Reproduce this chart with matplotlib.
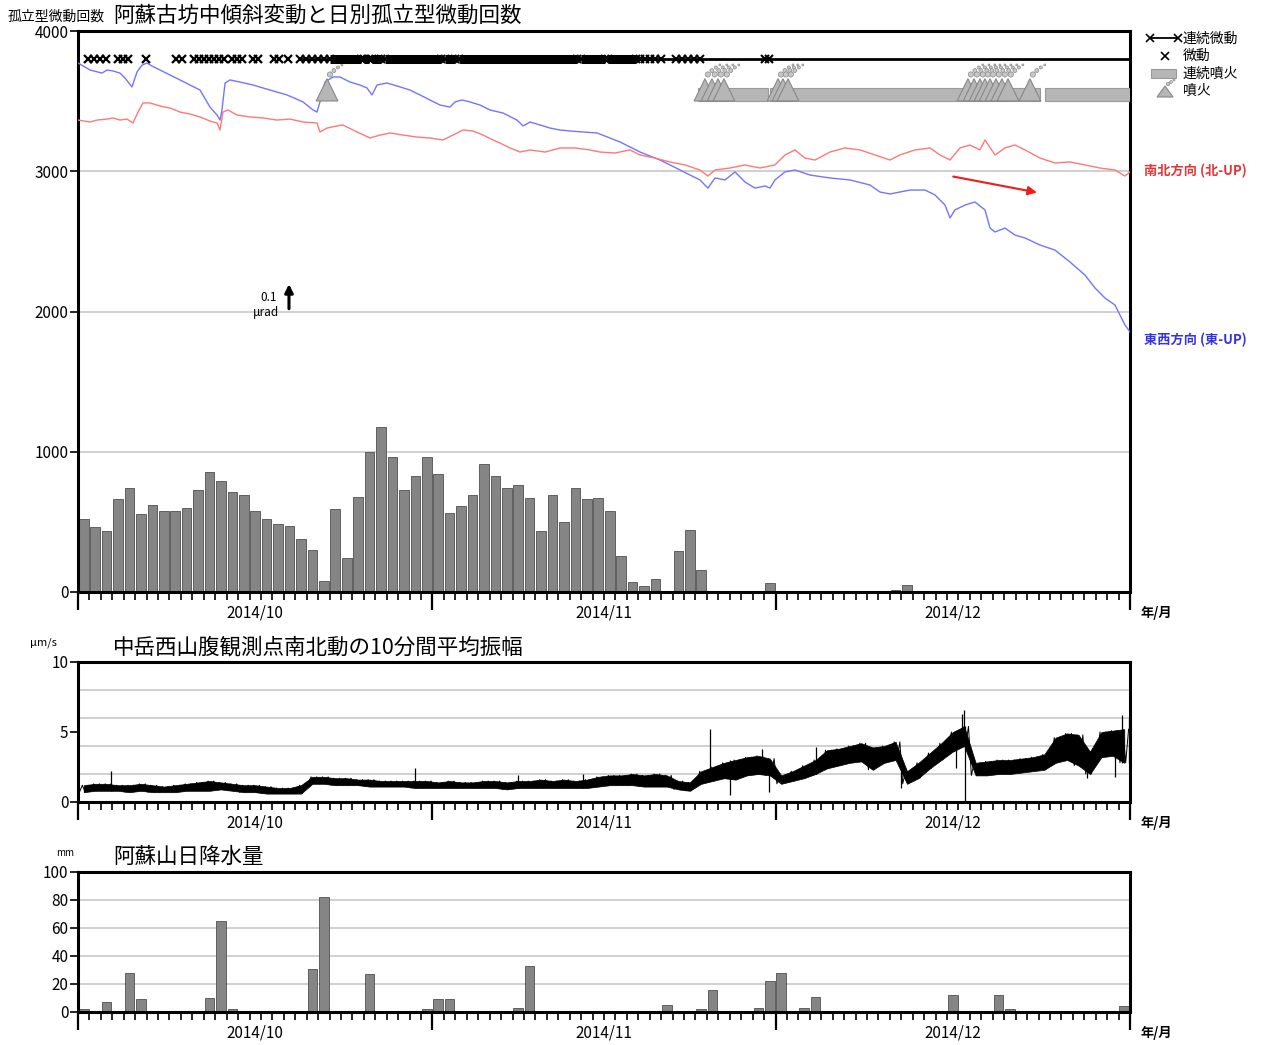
import numpy as np
import matplotlib
matplotlib.use('Agg')
import matplotlib.pyplot as plt
from matplotlib.patches import Polygon, Rectangle

plt.rcParams['font.family'] = ['Noto Sans CJK JP', 'DejaVu Sans']

######### DADOS #########
# dias contados a partir de 2014/10/01 (0 = 10/01 00:00, 92 = 2015/01/01)
month_edges = [0, 31, 61, 92]
month_labels = ['2014/10', '2014/11', '2014/12']

# 日別孤立型微動回数
quake_count = [520, 465, 435, 660, 740, 555, 620, 580, 580, 600,
               725, 855, 790, 710, 690, 580, 520, 485, 470, 375,
               300, 75, 590, 245, 680, 1000, 1175, 960, 730, 830, 960,
               840, 560, 615, 690, 910, 830, 745, 760, 670, 435,
               690, 500, 745, 660, 670, 580, 255, 70, 45, 90,
               0, 295, 440, 155, 0, 0, 0, 0, 0, 65,
               0, 0, 0, 0, 0, 0, 0, 0, 0, 0,
               17, 52, 0, 0, 0, 0, 0, 0, 0, 0,
               0, 0, 0, 0, 0, 0, 0, 0, 0, 0, 0]

# 傾斜 東西方向 (東-UP), na escala do eixo de contagem
ew_day = [0.0, 1.05, 2.1, 2.54, 3.06, 3.67, 4.11, 4.72, 5.16, 5.6,
          6.03, 6.47, 7.17, 8.05, 8.92, 9.79, 10.67, 11.54, 12.16, 12.42,
          12.59, 12.86, 13.29, 14.17, 15.3, 16.79, 18.28, 19.68, 20.55, 20.9,
          21.16, 21.6, 22.3, 22.91, 23.79, 24.66, 25.27, 25.71, 26.15, 27.02,
          27.9, 29.03, 29.91, 30.78, 31.66, 32.53, 32.97, 33.58, 34.28, 35.16,
          36.03, 37.17, 38.39, 38.92, 39.53, 40.4, 41.28, 42.15, 43.03, 44.16,
          45.39, 46.52, 47.4, 49.15, 50.9, 51.77, 52.65, 53.52, 54.39, 55.09,
          55.71, 56.58, 57.46, 58.33, 59.2, 60.08, 60.52, 60.95, 61.83, 62.7,
          64.01, 65.76, 67.51, 69.26, 70.13, 71.01, 71.88, 72.76, 74.07, 74.95,
          75.82, 76.26, 76.69, 77.57, 78.44, 79.32, 79.76, 80.19, 81.07, 81.94,
          82.82, 84.13, 85.44, 86.75, 88.06, 88.94, 89.81, 90.69, 91.12, 91.56,
          92.0]
ew_val = [3772, 3722, 3700, 3722, 3715, 3700, 3665, 3601, 3708, 3757,
          3772, 3750, 3722, 3686, 3651, 3615, 3579, 3458, 3401, 3365,
          3437, 3629, 3651, 3636, 3615, 3579, 3544, 3494, 3437, 3422,
          3494, 3636, 3672, 3672, 3636, 3615, 3594, 3544, 3615, 3629,
          3608, 3579, 3544, 3508, 3472, 3458, 3494, 3508, 3494, 3472,
          3437, 3415, 3365, 3323, 3351, 3330, 3308, 3294, 3287, 3280,
          3273, 3237, 3209, 3137, 3080, 3045, 3009, 2973, 2938, 2880,
          2952, 2938, 2995, 2923, 2880, 2895, 2880, 2938, 2995, 3009,
          2973, 2952, 2938, 2902, 2852, 2838, 2852, 2866, 2866, 2831,
          2759, 2667, 2724, 2759, 2781, 2724, 2595, 2567, 2595, 2545,
          2524, 2474, 2438, 2353, 2260, 2168, 2096, 2046, 1975, 1904,
          1854]

# 傾斜 南北方向 (北-UP)
ns_day = [0.0, 1.05, 1.66, 2.54, 3.06, 3.67, 4.29, 4.81, 5.25, 5.68,
          6.3, 7.17, 8.05, 8.92, 9.79, 10.67, 11.54, 12.16, 12.42, 12.68,
          13.12, 13.9, 15.04, 16.18, 17.4, 18.54, 19.68, 20.9, 21.16, 21.78,
          22.65, 23.17, 24.4, 25.54, 26.41, 27.29, 28.42, 29.65, 30.78, 31.92,
          32.8, 33.67, 34.54, 35.42, 36.29, 36.9, 37.78, 38.65, 39.53, 40.84,
          42.15, 43.46, 44.77, 45.65, 46.96, 48.27, 49.15, 50.46, 51.77, 53.08,
          54.39, 55.09, 55.71, 57.02, 58.33, 59.64, 60.95, 61.83, 62.7, 63.58,
          64.45, 65.76, 67.07, 68.39, 69.7, 71.01, 71.88, 73.2, 74.51, 75.38,
          76.26, 77.13, 78.01, 78.88, 79.32, 80.19, 81.07, 81.94, 82.82, 84.13,
          85.44, 86.75, 88.06, 89.37, 90.69, 91.56, 92.0]
ns_val = [3365, 3351, 3365, 3372, 3380, 3365, 3372, 3344, 3422, 3487,
          3487, 3465, 3451, 3422, 3408, 3387, 3358, 3344, 3294, 3422,
          3437, 3401, 3387, 3380, 3365, 3372, 3351, 3344, 3280, 3308,
          3323, 3330, 3280, 3237, 3258, 3273, 3258, 3244, 3237, 3223,
          3258, 3294, 3287, 3258, 3223, 3201, 3166, 3137, 3152, 3137,
          3166, 3166, 3152, 3137, 3130, 3152, 3116, 3094, 3066, 3045,
          3009, 2966, 3009, 3023, 3045, 3023, 3045, 3116, 3152, 3094,
          3080, 3137, 3166, 3152, 3116, 3080, 3116, 3152, 3166, 3116,
          3080, 3166, 3187, 3152, 3223, 3116, 3166, 3187, 3152, 3094,
          3059, 3066, 3045, 3023, 3009, 2966, 2995]

# 微動 (isolados) e 連続微動
tremor_day = [0.87, 1.4, 1.92, 2.45, 3.5, 3.94, 4.37, 5.95, 8.57, 9.09,
              10.14, 10.58, 11.02, 11.46, 11.89, 12.33, 12.77, 13.47, 13.9, 14.34,
              15.3, 15.74, 17.14, 17.58, 18.36]
cont_tremor = (19.4, 92.0)
cont_tremor_marks = [19.41, 19.94, 20.46, 20.99, 21.51, 49.15, 49.58, 50.02, 50.46, 50.98,
                     52.3, 52.82, 53.35, 53.87, 54.39, 60.08, 60.43]
dense_tremor = [(22.04, 24.74), (25.01, 25.45), (25.71, 26.5), (26.85, 31.74),
                (32.1, 32.97), (33.32, 43.64), (43.99, 46.09), (46.35, 48.8)]

# 噴火 / 連続噴火
eruption_day = [21.78, 54.83, 55.44, 55.97, 56.49, 61.22, 61.65, 62.09,
                77.83, 78.36, 78.88, 79.32, 79.76, 80.28, 80.8, 81.33, 83.25]
cont_eruption = [(54.22, 60.34), (60.5, 84.13), (84.56, 92.0)]

# 中岳西山腹 南北動 10分間平均振幅 (日ごとの下限・上限, μm/s)
amp_lo = [0.7, 0.8, 0.8, 0.8, 0.7, 0.8, 0.7, 0.7, 0.7, 0.8,
          0.8, 0.8, 0.9, 0.8, 0.7, 0.7, 0.6, 0.6, 0.6, 0.6,
          1.3, 1.3, 1.2, 1.2, 1.2, 1.1, 1.1, 1.1, 1.1, 1.0,
          1.0, 1.0, 1.0, 1.0, 1.0, 1.0, 1.0, 0.9, 1.0, 1.0,
          1.0, 1.0, 1.0, 1.0, 1.0, 1.1, 1.2, 1.2, 1.2, 1.1,
          1.1, 1.1, 0.9, 0.8, 1.3, 1.5, 1.7, 1.6, 1.9, 2.0,
          1.9, 1.3, 1.5, 1.7, 2.0, 2.4, 2.6, 2.8, 2.9, 2.3,
          2.8, 3.0, 1.3, 1.7, 2.4, 3.0, 3.6, 4.0, 1.9, 1.9,
          2.0, 2.0, 2.1, 2.2, 2.3, 2.8, 3.0, 2.6, 2.0, 3.2,
          3.3, 2.8]
amp_hi = [1.2, 1.3, 1.3, 1.2, 1.2, 1.3, 1.2, 1.1, 1.2, 1.3,
          1.4, 1.5, 1.4, 1.3, 1.2, 1.2, 1.1, 1.0, 1.0, 1.2,
          1.8, 1.8, 1.7, 1.7, 1.6, 1.6, 1.5, 1.5, 1.5, 1.5,
          1.5, 1.4, 1.5, 1.4, 1.4, 1.5, 1.5, 1.4, 1.5, 1.5,
          1.6, 1.5, 1.6, 1.5, 1.6, 1.8, 1.9, 1.9, 2.0, 1.9,
          2.0, 1.9, 1.5, 1.4, 2.2, 2.5, 2.8, 3.0, 3.2, 3.3,
          3.1, 1.9, 2.2, 2.6, 3.0, 3.7, 3.8, 4.0, 4.2, 3.9,
          4.0, 4.3, 2.2, 2.8, 3.5, 4.2, 5.0, 5.4, 2.8, 2.9,
          3.0, 3.0, 3.1, 3.2, 3.4, 4.6, 4.9, 4.8, 3.6, 5.0,
          5.1, 5.2]
spike_day = [2.9, 29.5, 38.5, 44.2, 55.3, 57.0, 59.8, 60.4, 64.5, 72.0,
             76.8, 77.3, 77.45, 77.55, 88.2, 90.7, 91.3, 91.9]
spike_val = [2.2, 2.4, 1.9, 2.0, 5.2, 0.5, 3.8, 0.7, 3.9, 1.0,
             2.4, 6.3, 6.6, 0.0, 1.7, 1.8, 6.2, 6.0]

# 阿蘇山日降水量 (mm)
rain = [2, 0, 7, 0, 28, 9, 0, 0, 0, 0,
        0, 10, 65, 2, 0, 0, 0, 0, 0, 0,
        31, 82, 0, 0, 0, 27, 0, 0, 0, 0, 2,
        9, 9.5, 0, 0, 0, 0, 0, 3, 33, 0,
        0, 0, 0, 0, 0, 0, 0, 0, 0, 0,
        5, 0, 0, 2, 16, 0, 0, 0, 3, 22,
        28, 0, 3, 11, 0, 0, 0, 1, 0, 0,
        0, 0, 0, 0, 0, 12, 0, 0, 0, 12,
        2, 0, 0, 0, 0, 0, 0, 0, 0, 0, 4]

######### FIGURA #########
W, H = 1262, 1045
fig = plt.figure(figsize=(W / 100, H / 100), dpi=100)

def px_axes(left, top, right, bottom):
    return fig.add_axes([left / W, 1 - bottom / H, (right - left) / W, (bottom - top) / H])

ax1 = px_axes(78, 31, 1130, 592)
ax2 = px_axes(78, 662, 1130, 802)
ax3 = px_axes(78, 872, 1130, 1012)

days = np.arange(len(quake_count))
bar_grey = '#858585'
grid_grey = '#c4c4c4'

def style_axis(ax, ymax, yticks, grid):
    ax.set_xlim(0, 92)
    ax.set_ylim(0, ymax)
    for s in ax.spines.values():
        s.set_linewidth(2.2)
    ax.set_yticks(yticks)
    ax.set_yticklabels([str(t) for t in yticks])
    ax.tick_params(axis='y', direction='out', length=6, width=1.2, labelsize=11, pad=1)
    ax.set_xticks(month_edges)
    ax.set_xticklabels([])
    ax.set_xticks(np.arange(93), minor=True)
    ax.tick_params(axis='x', which='major', direction='out', length=13, width=1.6)
    ax.tick_params(axis='x', which='minor', direction='out', length=6, width=1.2)
    for g in grid:
        ax.axhline(g, color=grid_grey, lw=1.1, zorder=0)
    for i, lbl in enumerate(month_labels):
        c = 0.5 * (month_edges[i] + month_edges[i + 1])
        ax.annotate(lbl, xy=(c, 0), xycoords=('data', 'axes fraction'),
                    xytext=(0, -15), textcoords='offset points',
                    ha='center', va='center', fontsize=11)
    ax.annotate('年/月', xy=(92, 0), xycoords=('data', 'axes fraction'),
                xytext=(19, -15), textcoords='offset points',
                ha='center', va='center', fontsize=9.5, fontweight='bold',
                annotation_clip=False)

# ---- painel de cima: contagem + inclinação ----
style_axis(ax1, 4000, [0, 1000, 2000, 3000, 4000], [1000, 2000, 3000])
ax1.bar(days + 0.5, quake_count, width=0.84, color=bar_grey, edgecolor='#505050', lw=0.6, zorder=2)
ax1.plot(ew_day, ew_val, color='#7474ff', lw=1.0, zorder=3)
ax1.plot(ns_day, ns_val, color='#ff7878', lw=1.0, zorder=3)

y_tr = 3800
ax1.plot(cont_tremor, [y_tr, y_tr], color='k', lw=2, zorder=4)
for a, b in dense_tremor:
    ax1.plot([a, b], [y_tr, y_tr], color='k', lw=6.5, solid_capstyle='butt', zorder=4)
    ax1.plot([a, b], [y_tr, y_tr], 'kx', ms=6, mew=1.5, zorder=4)
ax1.plot(cont_tremor_marks, [y_tr] * len(cont_tremor_marks), 'kx', ms=6, mew=1.5, zorder=4)
ax1.plot(tremor_day, [y_tr] * len(tremor_day), 'kx', ms=6, mew=1.6, zorder=4)

y_base, y_top = 3501, 3594
for a, b in cont_eruption:
    ax1.add_patch(Rectangle((a, y_base), b - a, y_top - y_base, fc='#b6b6b6', ec='#9a9a9a', lw=0.8, zorder=3))
for d in eruption_day:
    ax1.add_patch(Polygon([(d - 0.95, y_base), (d, 3660), (d + 0.95, y_base)],
                          closed=True, fc='#b6b6b6', ec='#888888', lw=0.8, zorder=3))
    ax1.scatter([d + 0.25, d + 0.6, d + 0.95, d + 1.3], [3690, 3718, 3740, 3758],
                s=[14, 8, 5, 2], fc='#c8c8c8', ec='#8a8a8a', lw=0.5, zorder=3)

# escala 0.1 μrad
ax1.annotate('', xy=(18.45, 2215), xytext=(18.45, 2000),
             arrowprops=dict(arrowstyle='-|>', color='k', lw=2.2, mutation_scale=12))
ax1.text(17.4, 2100, '0.1', ha='right', va='center', fontsize=8.5)
ax1.text(17.6, 1990, 'μrad', ha='right', va='center', fontsize=8.5)

# seta vermelha
ax1.annotate('', xy=(84.1, 2845), xytext=(76.3, 2966),
             arrowprops=dict(arrowstyle='-|>', color='#ee1c1c', lw=1.5, mutation_scale=13))

# ---- painel do meio: amplitude ----
style_axis(ax2, 10, [0, 5, 10], [2, 4, 6, 8])
# faixa preenchida entre mínimo e máximo diários + vai-e-vem dentro de cada dia
ax2.fill_between(days + 0.5, amp_lo, amp_hi, color='k', lw=0.5, zorder=3)
offs = [0.125, 0.375, 0.625, 0.875]
zx = np.ravel(np.column_stack([days + o for o in offs]))
zy = np.ravel(np.column_stack([amp_lo, amp_hi, amp_lo, amp_hi]))
ax2.plot(zx, zy, color='k', lw=0.7, zorder=3)
for d, v in zip(spike_day, spike_val):
    i = int(d)
    ax2.vlines(d, min(v, amp_lo[i]), max(v, amp_hi[i]), color='k', lw=0.9, zorder=3)

# ---- painel de baixo: chuva ----
style_axis(ax3, 100, [0, 20, 40, 60, 80, 100], [20, 40, 60, 80])
ax3.bar(days + 0.5, rain, width=0.84, color=bar_grey, edgecolor='#505050', lw=0.6, zorder=2)

######### TEXTOS E LEGENDA #########
ov = fig.add_axes([0, 0, 1, 1], zorder=10)
ov.set_xlim(0, W)
ov.set_ylim(H, 0)
ov.axis('off')
ov.patch.set_alpha(0)

ov.text(8, 17, '孤立型微動回数', fontsize=10, va='center')
ov.text(113, 16, '阿蘇古坊中傾斜変動と日別孤立型微動回数', fontsize=15.5, va='center')
ov.text(30, 643, 'μm/s', fontsize=8, va='center')
ov.text(113, 647, '中岳西山腹観測点南北動の10分間平均振幅', fontsize=15.5, va='center')
ov.text(56, 853, 'mm', fontsize=7, va='center')
ov.text(113, 857, '阿蘇山日降水量', fontsize=15.5, va='center')

ov.text(1144, 171, '南北方向 (北-UP)', color='#e53535', fontsize=9.5, fontweight='bold', va='center')
ov.text(1144, 340, '東西方向 (東-UP)', color='#3535e0', fontsize=9.5, fontweight='bold', va='center')

# legenda
ov.plot([1150, 1178], [38, 38], color='k', lw=1.3)
ov.plot([1150, 1178], [38, 38], 'kx', ms=6, mew=1.2)
ov.text(1183, 39, '連続微動', fontsize=10, va='center')
ov.plot([1165], [56], 'kx', ms=6, mew=1.2)
ov.text(1183, 56, '微動', fontsize=10, va='center')
ov.add_patch(Rectangle((1151, 69), 25, 9, fc='#b6b6b6', ec='#9a9a9a', lw=0.8))
ov.text(1183, 74, '連続噴火', fontsize=10, va='center')
ov.add_patch(Polygon([(1157, 97), (1165, 86), (1173, 97)], closed=True, fc='#b6b6b6', ec='#888888', lw=0.8))
ov.scatter([1168, 1171, 1174], [84, 82, 80], s=[6, 4, 2], fc='#c8c8c8', ec='#8a8a8a', lw=0.5)
ov.text(1183, 91, '噴火', fontsize=10, va='center')

plt.savefig('out.png', dpi=100)
